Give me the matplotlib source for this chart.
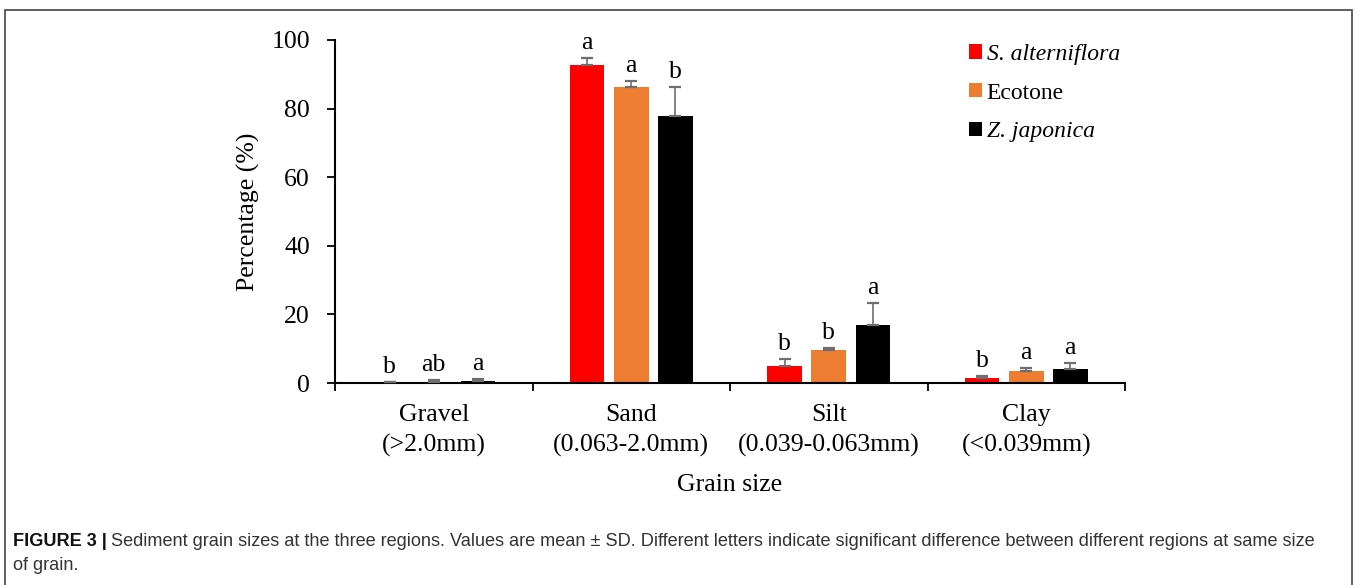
import numpy as np
import matplotlib
matplotlib.use("Agg")
import matplotlib.pyplot as plt
from matplotlib.patches import Rectangle

# data
categories = ["Gravel\n(>2.0mm)", "Sand\n(0.063-2.0mm)", "Silt\n(0.039-0.063mm)", "Clay\n(<0.039mm)"]
series = ["S. alterniflora", "Ecotone", "Z. japonica"]
s_alt = [0.2, 92.6, 5.1, 1.6]
s_alt_sd = [0.1, 2.2, 2.0, 0.4]
ecotone = [0.4, 86.2, 9.5, 3.6]
ecotone_sd = [0.4, 1.8, 0.8, 0.9]
z_jap = [0.5, 77.9, 16.8, 4.2]
z_jap_sd = [0.7, 8.3, 6.6, 1.7]
letters_alt = ["b", "a", "b", "b"]
letters_eco = ["ab", "a", "b", "a"]
letters_jap = ["a", "b", "a", "a"]

colors = ["#FF0000", "#ED7D31", "#000000"]

plt.rcParams['font.family'] = ['Liberation Serif', 'DejaVu Serif']
fs = 18.5

fig = plt.figure(figsize=(13.58, 5.85), dpi=100)
ax = fig.add_axes([335/1358, 1-383/585, 790/1358, 343/585])

x = np.arange(len(categories))
w = 0.175
off = 0.223
vals = [s_alt, ecotone, z_jap]
sds = [s_alt_sd, ecotone_sd, z_jap_sd]
lets = [letters_alt, letters_eco, letters_jap]
for i in range(3):
    xs = x + (i-1)*off
    ax.bar(xs, vals[i], w, color=colors[i], label=series[i], zorder=2)
    ax.errorbar(xs, vals[i], yerr=[np.zeros(4), sds[i]], fmt='none',
                ecolor='#6e6e6e', elinewidth=1.2, capsize=4, capthick=1.6, zorder=3)
    for k in range(4):
        ax.annotate(lets[i][k], (xs[k], vals[i][k]+sds[i][k]), xytext=(0, 6.5),
                    textcoords='offset points', ha='center', va='baseline', fontsize=fs)

ax.set_xlim(-0.5, 3.5)
ax.set_ylim(0, 100)
ax.set_yticks([0, 20, 40, 60, 80, 100])
ax.set_xticks(x)
ax.set_xticklabels(categories, fontsize=fs, linespacing=1.45)
ax.set_xticks(np.arange(-0.5, 4, 1), minor=True)
ax.tick_params(axis='x', which='major', length=0, pad=15)
ax.tick_params(axis='x', which='minor', length=6, width=1.3, direction='out')
ax.tick_params(axis='y', labelsize=fs, length=6, width=1.3, pad=12)
for sp in ['top', 'right']:
    ax.spines[sp].set_visible(False)
for sp in ['left', 'bottom']:
    ax.spines[sp].set_linewidth(1.5)
ax.set_ylabel("Percentage (%)", fontsize=fs, labelpad=8)
ax.set_xlabel("Grain size", fontsize=fs, labelpad=12)

leg = ax.legend(loc='upper left', bbox_to_anchor=(957/1358, 1-32/585), bbox_transform=fig.transFigure,
                frameon=False, fontsize=17, handlelength=0.55, handleheight=0.55,
                handletextpad=0.2, labelspacing=0.75, borderpad=0)
leg.get_texts()[0].set_fontstyle('italic')
leg.get_texts()[2].set_fontstyle('italic')

# caption
cap1 = "Sediment grain sizes at the three regions. Values are mean \u00b1 SD. Different letters indicate significant difference between different regions at same size"
t1 = fig.text(13/1358, 1-541/585, "FIGURE 3 |", fontsize=13.1, fontweight='bold',
              family='Liberation Sans', color='#111111', va='center')
ax.annotate(cap1, xy=(1, 0.5), xycoords=t1, xytext=(3, 0), textcoords='offset points',
            va='center', ha='left', fontsize=13.1, family='Liberation Sans', color='#333333',
            annotation_clip=False)
fig.text(13/1358, 1-565/585, "of grain.", fontsize=13.1, family='Liberation Sans', color='#333333', va='center')

# frame around figure panel
fig.add_artist(Rectangle((5/1358, -0.05), 1347/1358, 1.05-10/585, transform=fig.transFigure,
                         fill=False, edgecolor='#444444', linewidth=1.2))

fig.savefig("out.png", dpi=100)
